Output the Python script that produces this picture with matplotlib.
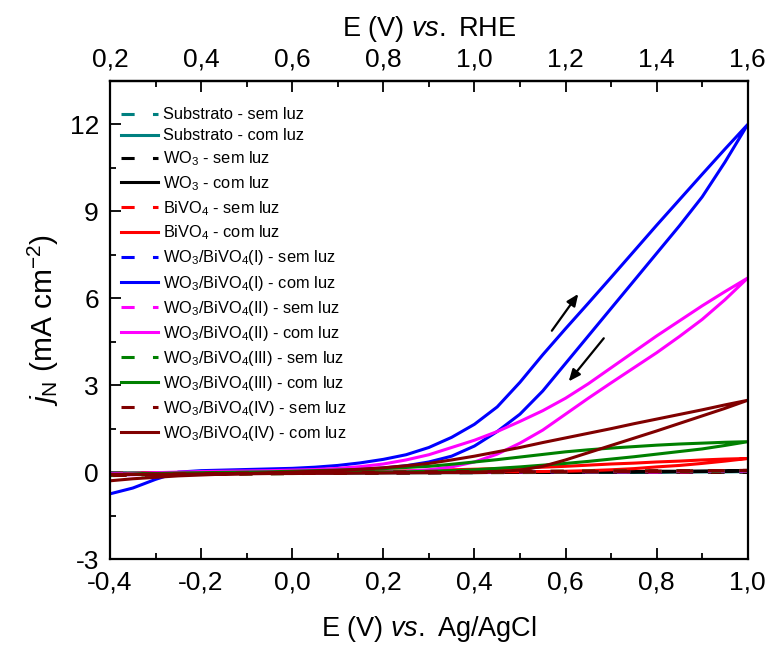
import matplotlib
matplotlib.use("Agg")
import matplotlib.pyplot as plt
from matplotlib.ticker import MultipleLocator, FuncFormatter

plt.rcParams['font.family'] = ['Liberation Sans', 'DejaVu Sans']
plt.rcParams['mathtext.fontset'] = 'custom'
plt.rcParams['mathtext.rm'] = 'Liberation Sans'
plt.rcParams['mathtext.it'] = 'Liberation Sans:italic'
plt.rcParams['mathtext.bf'] = 'Liberation Sans:bold'

# Potential grid (V vs. Ag/AgCl) for the illuminated scans
E = [-0.4, -0.35, -0.3, -0.25, -0.2, -0.15, -0.1, -0.05, 0.0, 0.05, 0.1,
     0.15, 0.2, 0.25, 0.3, 0.35, 0.4, 0.45, 0.5, 0.55, 0.6, 0.65, 0.7,
     0.75, 0.8, 0.85, 0.9, 0.95, 1.0]
# Coarser grid for the dark scans
E_dark = [-0.4, -0.2, 0.0, 0.2, 0.4, 0.6, 0.8, 1.0]

# Illuminated scans: anodic (fwd) and cathodic (rev) branches, mA cm^-2
sub_com_fwd = [-0.04, -0.03, -0.03, -0.02, -0.02, -0.01, -0.01, -0.01, 0.0, 0.0, 0.0,
               0.0, 0.0, 0.0, 0.0, 0.0, 0.0, 0.0, 0.0, 0.01, 0.01, 0.01, 0.01,
               0.01, 0.01, 0.02, 0.02, 0.02, 0.02]
sub_com_rev = [-0.04, -0.04, -0.04, -0.03, -0.03, -0.03, -0.03, -0.03, -0.02, -0.02, -0.02,
               -0.02, -0.02, -0.02, -0.01, -0.01, -0.01, -0.01, -0.01, -0.01, 0.0, 0.0, 0.0,
               0.0, 0.0, 0.01, 0.01, 0.01, 0.02]
wo3_com_fwd = [-0.06, -0.05, -0.04, -0.03, -0.02, -0.02, -0.01, -0.01, 0.0, 0.0, 0.0,
               0.0, 0.0, 0.0, 0.0, 0.0, 0.0, 0.01, 0.01, 0.01, 0.01, 0.02, 0.02,
               0.02, 0.03, 0.03, 0.04, 0.04, 0.05]
wo3_com_rev = [-0.06, -0.06, -0.05, -0.05, -0.05, -0.04, -0.04, -0.04, -0.03, -0.03, -0.03,
               -0.03, -0.02, -0.02, -0.02, -0.02, -0.02, -0.01, -0.01, -0.01, -0.01, 0.0, 0.0,
               0.0, 0.01, 0.01, 0.02, 0.03, 0.05]
bivo4_com_fwd = [-0.05, -0.04, -0.03, -0.02, -0.02, -0.01, -0.01, 0.0, 0.0, 0.01, 0.01,
                 0.02, 0.03, 0.04, 0.06, 0.08, 0.1, 0.12, 0.14, 0.17, 0.2, 0.24, 0.28,
                 0.31, 0.35, 0.38, 0.42, 0.45, 0.47]
bivo4_com_rev = [-0.05, -0.05, -0.04, -0.04, -0.03, -0.03, -0.03, -0.02, -0.02, -0.02, -0.01,
                 -0.01, -0.01, 0.0, 0.0, 0.0, 0.0, 0.01, 0.01, 0.02, 0.03, 0.05, 0.08,
                 0.12, 0.18, 0.23, 0.3, 0.38, 0.47]
h1_com_fwd = [-0.75, -0.55, -0.25, 0.0, 0.05, 0.07, 0.09, 0.11, 0.13, 0.17, 0.23,
              0.32, 0.44, 0.6, 0.85, 1.2, 1.65, 2.25, 3.1, 4.05, 4.95, 5.83, 6.72,
              7.62, 8.52, 9.4, 10.28, 11.15, 12.0]
h1_com_rev = [-0.1, -0.08, -0.06, -0.04, -0.02, 0.0, 0.01, 0.02, 0.03, 0.05, 0.07,
              0.1, 0.14, 0.22, 0.35, 0.55, 0.9, 1.4, 2.0, 2.8, 3.75, 4.7, 5.65,
              6.6, 7.55, 8.5, 9.5, 10.7, 12.0]
h2_com_fwd = [-0.1, -0.05, -0.02, 0.0, 0.02, 0.03, 0.04, 0.05, 0.07, 0.09, 0.13,
              0.19, 0.28, 0.42, 0.6, 0.85, 1.1, 1.4, 1.75, 2.12, 2.55, 3.05, 3.6,
              4.15, 4.7, 5.22, 5.74, 6.23, 6.7]
h2_com_rev = [-0.1, -0.09, -0.07, -0.06, -0.05, -0.05, -0.04, -0.04, -0.03, -0.03, -0.02,
              -0.01, 0.0, 0.03, 0.08, 0.18, 0.35, 0.62, 1.0, 1.45, 2.0, 2.55, 3.08,
              3.6, 4.12, 4.68, 5.27, 5.95, 6.7]
h3_com_fwd = [-0.1, -0.08, -0.05, -0.03, -0.02, -0.01, 0.0, 0.01, 0.03, 0.05, 0.07,
              0.09, 0.12, 0.16, 0.2, 0.27, 0.35, 0.43, 0.52, 0.61, 0.7, 0.77, 0.83,
              0.88, 0.93, 0.97, 1.0, 1.03, 1.05]
h3_com_rev = [-0.08, -0.07, -0.06, -0.06, -0.05, -0.05, -0.04, -0.04, -0.03, -0.02, -0.02,
              -0.01, 0.0, 0.01, 0.03, 0.05, 0.08, 0.13, 0.18, 0.24, 0.3, 0.37, 0.45,
              0.53, 0.62, 0.71, 0.8, 0.92, 1.05]
h4_com_fwd = [-0.3, -0.23, -0.18, -0.13, -0.1, -0.07, -0.05, -0.02, 0.0, 0.03, 0.06,
              0.1, 0.15, 0.22, 0.3, 0.42, 0.55, 0.7, 0.85, 1.02, 1.18, 1.34, 1.5,
              1.67, 1.83, 1.99, 2.15, 2.32, 2.48]
h4_com_rev = [-0.08, -0.08, -0.07, -0.07, -0.06, -0.06, -0.06, -0.05, -0.05, -0.04, -0.04,
              -0.03, -0.03, -0.02, -0.02, -0.01, 0.0, 0.02, 0.07, 0.2, 0.42, 0.67, 0.92,
              1.17, 1.42, 1.68, 1.94, 2.2, 2.48]

# Dark scans
sub_sem_fwd = [-0.03, -0.02, -0.01, 0.0, 0.0, 0.0, 0.01, 0.01]
sub_sem_rev = [-0.04, -0.03, -0.02, -0.02, -0.01, -0.01, 0.0, 0.01]
wo3_sem_fwd = [-0.05, -0.03, -0.02, -0.01, 0.0, 0.0, 0.0, 0.0]
wo3_sem_rev = [-0.06, -0.05, -0.04, -0.03, -0.02, -0.01, -0.01, 0.0]
bivo4_sem_fwd = [-0.04, -0.02, -0.01, 0.0, 0.0, 0.01, 0.01, 0.02]
bivo4_sem_rev = [-0.05, -0.04, -0.03, -0.02, -0.01, -0.01, 0.0, 0.02]
h1_sem_fwd = [-0.06, -0.03, -0.01, 0.0, 0.01, 0.01, 0.02, 0.03]
h1_sem_rev = [-0.07, -0.05, -0.03, -0.02, -0.01, 0.0, 0.01, 0.03]
h2_sem_fwd = [-0.06, -0.03, -0.01, 0.0, 0.01, 0.02, 0.02, 0.03]
h2_sem_rev = [-0.08, -0.05, -0.03, -0.02, -0.01, 0.0, 0.01, 0.03]
h3_sem_fwd = [-0.12, -0.06, -0.03, 0.0, 0.02, 0.03, 0.04, 0.05]
h3_sem_rev = [-0.1, -0.08, -0.05, -0.03, -0.01, 0.0, 0.02, 0.05]
h4_sem_fwd = [-0.1, -0.05, -0.02, 0.0, 0.02, 0.03, 0.04, 0.06]
h4_sem_rev = [-0.12, -0.08, -0.05, -0.03, -0.01, 0.01, 0.03, 0.06]

labels = [
    'Substrato - sem luz', 'Substrato - com luz',
    'WO$_3$ - sem luz', 'WO$_3$ - com luz',
    'BiVO$_4$ - sem luz', 'BiVO$_4$ - com luz',
    'WO$_3$/BiVO$_4$(I) - sem luz', 'WO$_3$/BiVO$_4$(I) - com luz',
    'WO$_3$/BiVO$_4$(II) - sem luz', 'WO$_3$/BiVO$_4$(II) - com luz',
    'WO$_3$/BiVO$_4$(III) - sem luz', 'WO$_3$/BiVO$_4$(III) - com luz',
    'WO$_3$/BiVO$_4$(IV) - sem luz', 'WO$_3$/BiVO$_4$(IV) - com luz',
]
colors = ['#008080', '#000000', '#ff0000', '#0000ff', '#ff00ff', '#008000', '#800000']

series = [
    (sub_sem_fwd, sub_sem_rev, sub_com_fwd, sub_com_rev),
    (wo3_sem_fwd, wo3_sem_rev, wo3_com_fwd, wo3_com_rev),
    (bivo4_sem_fwd, bivo4_sem_rev, bivo4_com_fwd, bivo4_com_rev),
    (h1_sem_fwd, h1_sem_rev, h1_com_fwd, h1_com_rev),
    (h2_sem_fwd, h2_sem_rev, h2_com_fwd, h2_com_rev),
    (h3_sem_fwd, h3_sem_rev, h3_com_fwd, h3_com_rev),
    (h4_sem_fwd, h4_sem_rev, h4_com_fwd, h4_com_rev),
]

fig = plt.figure(figsize=(7.73, 6.45), dpi=100)
ax = fig.add_axes([0.1423, 0.1333, 0.8250, 0.7411])

lw = 2.2
for i, (sf, sr, cf, cr) in enumerate(series):
    c = colors[i]
    ax.plot(E_dark + E_dark[::-1], sf + sr[::-1], color=c, lw=lw,
            dashes=(4.3, 6.0), label=labels[2 * i])
    ax.plot(E + E[::-1], cf + cr[::-1], color=c, lw=lw,
            solid_joinstyle='round', label=labels[2 * i + 1])

# scan direction arrows
arrow = dict(arrowstyle='-|>,head_length=0.7,head_width=0.3', color='black', lw=1.6,
             shrinkA=0, shrinkB=0)
ax.annotate('', xy=(0.628, 6.15), xytext=(0.570, 4.88), arrowprops=arrow)
ax.annotate('', xy=(0.607, 3.13), xytext=(0.684, 4.62), arrowprops=arrow)

ax.set_xlim(-0.4, 1.0)
ax.set_ylim(-3, 13.5)

comma = FuncFormatter(lambda v, p: f"{v:.1f}".replace('.', ','))
ax.xaxis.set_major_locator(MultipleLocator(0.2))
ax.xaxis.set_minor_locator(MultipleLocator(0.1))
ax.xaxis.set_major_formatter(comma)
ax.yaxis.set_major_locator(MultipleLocator(3))
ax.yaxis.set_minor_locator(MultipleLocator(1.5))
ax.yaxis.set_major_formatter(FuncFormatter(lambda v, p: f"{v:.0f}"))

fs = 19
ax.tick_params(which='both', direction='in', top=False, right=False,
               labelsize=fs, width=1.3)
ax.tick_params(which='major', length=8)
ax.tick_params(which='minor', length=4)
ax.tick_params(axis='x', pad=8)
ax.tick_params(axis='y', pad=8)
for s in ax.spines.values():
    s.set_linewidth(1.6)

top = ax.secondary_xaxis('top', functions=(lambda e: e + 0.6, lambda r: r - 0.6))
top.xaxis.set_major_locator(MultipleLocator(0.2))
top.xaxis.set_minor_locator(MultipleLocator(0.1))
top.xaxis.set_major_formatter(comma)
top.tick_params(which='both', direction='in', labelsize=fs, width=1.3, pad=7)
top.tick_params(which='major', length=8)
top.tick_params(which='minor', length=4)
top.spines['top'].set_linewidth(1.6)
top.set_xlabel('E (V) $\\mathit{vs.}$ RHE', fontsize=fs + 0.5, labelpad=8)

ax.set_xlabel('E (V) $\\mathit{vs.}$ Ag/AgCl', fontsize=fs + 0.5, labelpad=14)
ax.set_ylabel('$j_\\mathrm{N}$ (mA cm$^{-2}$)', fontsize=fs + 2.5, labelpad=6)

ax.legend(loc='upper left', bbox_to_anchor=(0.017, 0.945), frameon=False,
          fontsize=11.8, handlelength=2.25, handletextpad=0.3,
          labelspacing=0.37, borderpad=0, borderaxespad=0)

fig.savefig('out.png', dpi=100)
